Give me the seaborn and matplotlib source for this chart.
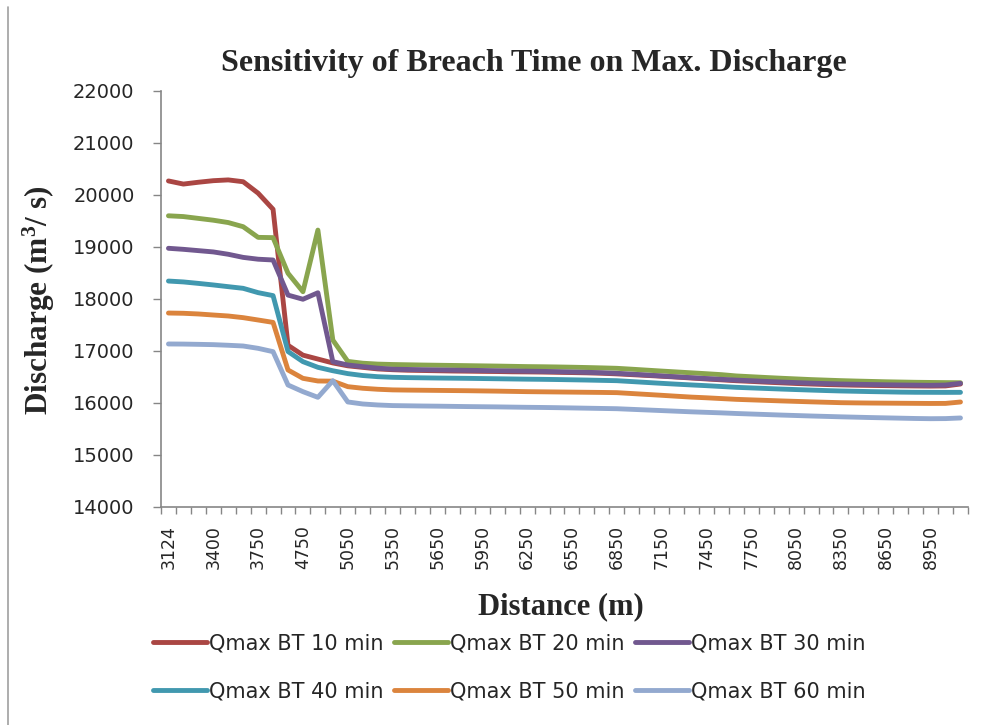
import numpy as np
import pandas as pd
import matplotlib
matplotlib.use("Agg")
import matplotlib.pyplot as plt
import seaborn as sns

# ── data ────────────────────────────────────────────
distance = [3124, 3200, 3300, 3400, 3500, 3600, 3750, 4000, 4500, 4750,
            4850, 4950, 5050, 5150, 5250, 5350, 5450, 5550, 5650, 5750,
            5850, 5950, 6050, 6150, 6250, 6350, 6450, 6550, 6650, 6750,
            6850, 6950, 7050, 7150, 7250, 7350, 7450, 7550, 7650, 7750,
            7850, 7950, 8050, 8150, 8250, 8350, 8450, 8550, 8650, 8750,
            8850, 8950, 9050, 9150]

q_bt10 = [20270, 20210, 20245, 20275, 20290, 20255, 20035, 19725, 17110, 16920,
          16845, 16770, 16715, 16685, 16655, 16640, 16630, 16625, 16620, 16615,
          16612, 16608, 16605, 16600, 16598, 16595, 16590, 16585, 16580, 16572,
          16560, 16545, 16530, 16515, 16498, 16480, 16462, 16445, 16428, 16415,
          16400, 16388, 16375, 16365, 16355, 16348, 16342, 16338, 16334, 16330,
          16327, 16325, 16328, 16365]
q_bt20 = [19600, 19585, 19550, 19515, 19470, 19390, 19185, 19180, 18495, 18140,
          19325, 17210, 16800, 16765, 16748, 16740, 16735, 16730, 16726, 16722,
          16718, 16714, 16710, 16705, 16700, 16697, 16693, 16688, 16682, 16675,
          16667, 16650, 16632, 16614, 16597, 16580, 16563, 16545, 16520, 16505,
          16490, 16476, 16463, 16450, 16440, 16430, 16422, 16415, 16408, 16403,
          16398, 16395, 16392, 16390]
q_bt30 = [18975, 18955, 18930, 18905, 18860, 18800, 18765, 18750, 18075, 17995,
          18120, 16795, 16731, 16699, 16670, 16650, 16645, 16640, 16636, 16632,
          16628, 16625, 16620, 16617, 16612, 16608, 16603, 16597, 16590, 16582,
          16571, 16555, 16538, 16520, 16503, 16486, 16470, 16455, 16440, 16428,
          16415, 16403, 16392, 16382, 16373, 16365, 16360, 16355, 16350, 16346,
          16343, 16340, 16345, 16378]
q_bt40 = [18345, 18328, 18300, 18270, 18237, 18205, 18122, 18065, 16990, 16795,
          16686, 16620, 16565, 16528, 16506, 16494, 16488, 16484, 16480, 16477,
          16474, 16470, 16466, 16462, 16458, 16455, 16451, 16446, 16441, 16435,
          16429, 16412, 16395, 16378, 16362, 16347, 16333, 16317, 16301, 16290,
          16279, 16268, 16258, 16248, 16239, 16231, 16225, 16219, 16214, 16209,
          16206, 16205, 16204, 16205]
q_bt50 = [17730, 17725, 17712, 17692, 17673, 17641, 17596, 17550, 16635, 16474,
          16423, 16420, 16314, 16283, 16264, 16252, 16248, 16245, 16242, 16239,
          16236, 16232, 16228, 16223, 16218, 16215, 16212, 16209, 16206, 16203,
          16199, 16182, 16165, 16148, 16130, 16113, 16100, 16085, 16070, 16060,
          16050, 16040, 16031, 16022, 16014, 16006, 16002, 15999, 15997, 15995,
          15993, 15991, 15992, 16019]
q_bt60 = [17135, 17133, 17128, 17122, 17110, 17096, 17051, 16987, 16346, 16218,
          16109, 16429, 16020, 15981, 15962, 15950, 15946, 15942, 15939, 15935,
          15931, 15928, 15925, 15921, 15917, 15914, 15910, 15905, 15900, 15895,
          15890, 15878, 15866, 15854, 15842, 15830, 15820, 15810, 15798, 15788,
          15778, 15768, 15759, 15750, 15742, 15734, 15727, 15720, 15714, 15708,
          15702, 15698, 15700, 15712]

series_names = ["Qmax BT 10 min", "Qmax BT 20 min", "Qmax BT 30 min",
                "Qmax BT 40 min", "Qmax BT 50 min", "Qmax BT 60 min"]
series_colors = ["#AA4643", "#89A54E", "#71588F", "#4198AF", "#DB843D", "#93A9CF"]

# ── long table for seaborn ──────────────────────────
pos = np.arange(len(distance))
frames = []
for name, vals in zip(series_names, [q_bt10, q_bt20, q_bt30, q_bt40, q_bt50, q_bt60]):
    frames.append(pd.DataFrame({"pos": pos, "distance": distance,
                                "discharge": vals, "series": name}))
df = pd.concat(frames, ignore_index=True)

# ── style ───────────────────────────────────────────
sns.set_theme(style="white")
plt.rcParams["font.family"] = ["DejaVu Sans"]
plt.rcParams["mathtext.fontset"] = "custom"
plt.rcParams["mathtext.rm"] = "Liberation Serif:bold"
plt.rcParams["mathtext.it"] = "Liberation Serif:bold"
plt.rcParams["mathtext.bf"] = "Liberation Serif:bold"

axis_grey = "#868686"
serif_bold = dict(family=["Liberation Serif", "DejaVu Serif"], weight="bold")

fig = plt.figure(figsize=(9.87, 7.25), dpi=100)
ax = fig.add_axes([0.1631, 0.3007, 0.8176, 0.5738])

sns.lineplot(data=df, x="pos", y="discharge", hue="series",
             hue_order=series_names, palette=series_colors,
             sort=False, estimator=None, linewidth=3.5, ax=ax)
for ln in ax.get_lines():
    ln.set_solid_capstyle("round")
    ln.set_solid_joinstyle("round")

# ── axes ────────────────────────────────────────────
ax.set_xlim(-0.5, len(distance) - 0.5)
ax.set_ylim(14000, 22000)
ax.set_yticks(np.arange(14000, 22001, 1000))
ax.set_xticks(pos[::3])
ax.set_xticklabels([str(d) for d in distance[::3]], rotation=90, fontsize=12.5)
ax.set_xticks(np.arange(-0.5, len(distance), 1.0), minor=True)
ax.tick_params(axis="x", which="major", length=0, pad=13)
ax.tick_params(axis="x", which="minor", length=5, width=1, color=axis_grey,
               direction="out", bottom=True)
ax.tick_params(axis="y", which="major", length=6, width=1, color=axis_grey,
               direction="out", left=True, pad=13, labelsize=14)
for side in ["top", "right"]:
    ax.spines[side].set_visible(False)
for side in ["left", "bottom"]:
    ax.spines[side].set_color(axis_grey)
    ax.spines[side].set_linewidth(1.2)
ax.grid(False)

ax.set_xlabel("Distance (m)", fontsize=22, **serif_bold)
ax.set_ylabel("Discharge (m$^3$/ s)", fontsize=22.5, **serif_bold)
ax.xaxis.set_label_coords(0.496, -0.204)
ax.yaxis.set_label_coords(-0.129, 0.4976)

fig.text(0.541, 0.912, "Sensitivity of Breach Time on Max. Discharge",
         ha="center", va="center", fontsize=23, **serif_bold)

# ── legend: row-major order like Excel ──────────────
handles, labels = ax.get_legend_handles_labels()
ax.get_legend().remove()
order = [0, 3, 1, 4, 2, 5]
leg = fig.legend([handles[i] for i in order], [labels[i] for i in order],
                 loc="center", bbox_to_anchor=(0.516, 0.079), ncol=3,
                 frameon=False, fontsize=15, handlelength=2.6,
                 handletextpad=0.1, columnspacing=0.5, labelspacing=1.35)
for h in leg.get_lines():
    h.set_linewidth(3.5)
    h.set_solid_capstyle("round")

# chart-area border (left edge visible in reference)
fig.add_artist(plt.Line2D([0.008, 0.008], [0, 0.99], color="#A0A0A0", lw=1.2,
                          transform=fig.transFigure))

fig.savefig("out.png", dpi=100)
